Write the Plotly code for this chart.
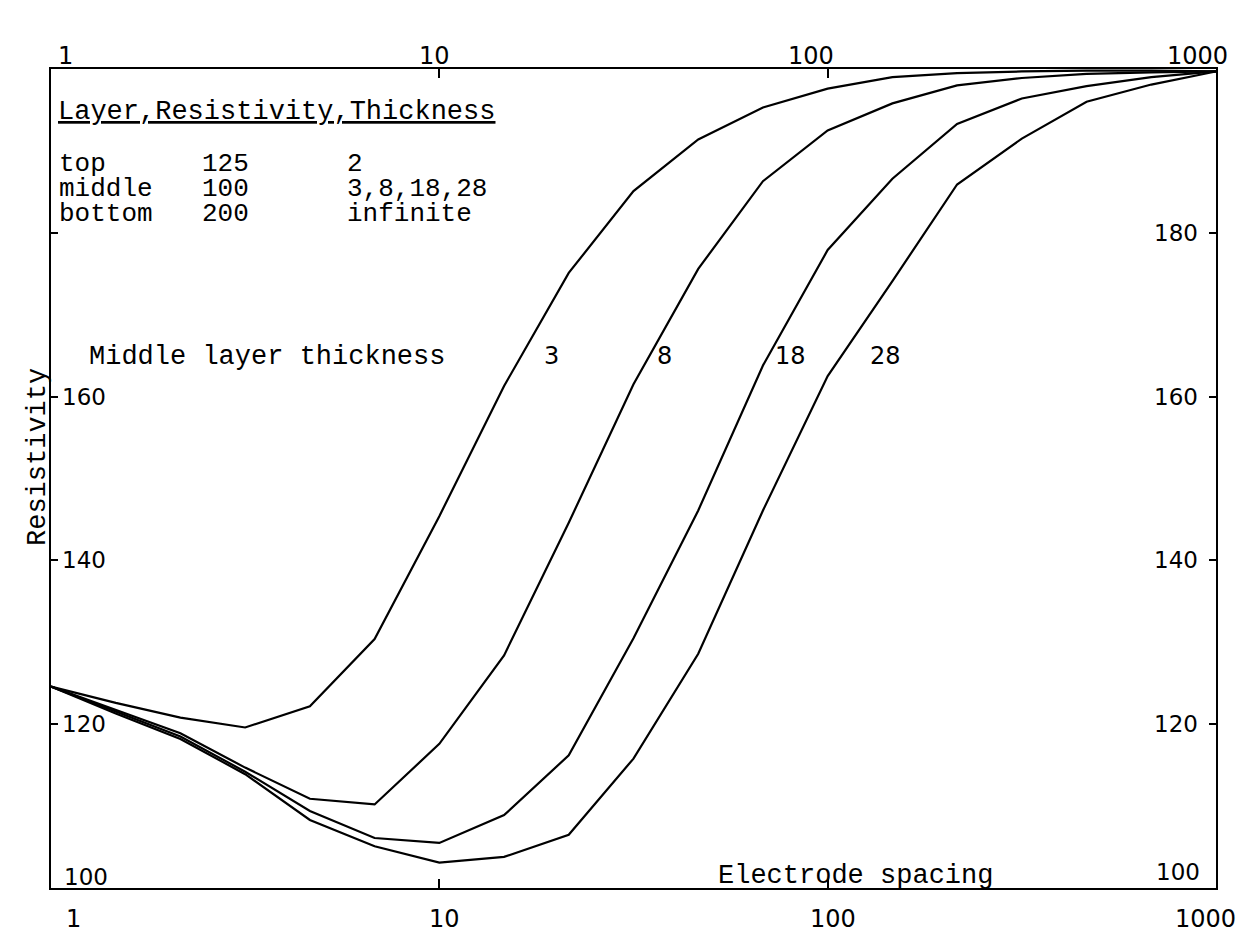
import plotly.graph_objects as go
import math

# ---- data ----
spacing = [1, 1.468, 2.154, 3.162, 4.642, 6.813, 10, 14.68, 21.54, 31.62,
           46.42, 68.13, 100, 146.8, 215.4, 316.2, 464.2, 681.3, 1000]
thickness_labels = ["3", "8", "18", "28"]
rho_t3 = [124.6, 122.6, 120.8, 119.6, 122.2, 130.4, 145.4, 161.3, 175.1, 185.1,
          191.4, 195.3, 197.6, 199.0, 199.5, 199.7, 199.8, 199.8, 199.7]
rho_t8 = [124.6, 121.7, 118.9, 114.7, 110.9, 110.2, 117.6, 128.4, 144.6, 161.5,
          175.6, 186.3, 192.5, 195.8, 198.0, 198.9, 199.4, 199.6, 199.7]
rho_t18 = [124.6, 121.5, 118.5, 114.2, 109.4, 106.1, 105.5, 108.9, 116.2, 130.5,
           146.1, 163.8, 177.9, 186.6, 193.3, 196.4, 197.9, 199.0, 199.7]
rho_t28 = [124.6, 121.3, 118.2, 113.9, 108.3, 105.1, 103.1, 103.8, 106.5, 115.8,
           128.6, 146.1, 162.5, 174.1, 185.9, 191.5, 196.0, 198.1, 199.7]
series = [rho_t3, rho_t8, rho_t18, rho_t28]

x_ticks = [1, 10, 100, 1000]
x_tick_text = ["1", "10", "100", "1000"]
y_ticks_left = [120, 140, 160]
y_ticks_right = [120, 140, 160, 180]

table_rows = [("top", "125", "2"), ("middle", "100", "3,8,18,28"), ("bottom", "200", "infinite")]

MONO = "Liberation Mono"
SANS = "DejaVu Sans"

fig = go.Figure()
for name, ys in zip(thickness_labels, series):
    fig.add_trace(go.Scatter(x=spacing, y=ys, mode="lines", name=name,
                             line=dict(color="black", width=2.2), showlegend=False))

W, H = 1252, 952
L, R, T, B = 51, 36, 69, 64
pw = W - L - R
ph = H - T - B


def px_to_paper_x(px):
    return (px - L) / pw


def py_to_paper_y(py):
    return 1 - (py - T) / ph


ann = []
top_shift = [5, -5, -17, -19]
bot_shift = [13, 5, 5, -11]
for v, t, s1, s2 in zip(x_ticks, x_tick_text, top_shift, bot_shift):
    ann.append(dict(x=math.log10(v), xref="x", y=1, yref="paper", text=t,
                    xanchor="left" if v == 1 else "center", yanchor="bottom",
                    xshift=s1, yshift=-3, showarrow=False,
                    font=dict(family=SANS, size=24, color="black")))
    ann.append(dict(x=math.log10(v), xref="x", y=0, yref="paper", text=t,
                    xanchor="left" if v == 1 else "center", yanchor="top",
                    xshift=s2, yshift=-15, showarrow=False,
                    font=dict(family=SANS, size=24, color="black")))
for v in y_ticks_left:
    ann.append(dict(x=px_to_paper_x(60), xref="paper", y=v, yref="y", text=str(v),
                    xanchor="left", yanchor="middle", showarrow=False,
                    font=dict(family=SANS, size=23, color="black")))
ann.append(dict(x=px_to_paper_x(62), xref="paper", y=101.4, yref="y", text="100",
                xanchor="left", yanchor="middle", showarrow=False,
                font=dict(family=SANS, size=23, color="black")))
for v in y_ticks_right:
    ann.append(dict(x=px_to_paper_x(1200), xref="paper", y=v, yref="y", text=str(v),
                    xanchor="right", yanchor="middle", showarrow=False,
                    font=dict(family=SANS, size=23, color="black")))
ann.append(dict(x=px_to_paper_x(1202), xref="paper", y=101.9, yref="y", text="100",
                xanchor="right", yanchor="middle", showarrow=False,
                font=dict(family=SANS, size=23, color="black")))

ann.append(dict(x=px_to_paper_x(56), xref="paper", y=py_to_paper_y(112), yref="paper",
                text="<u>Layer,Resistivity,Thickness</u>", xanchor="left", yanchor="middle",
                showarrow=False, font=dict(family=MONO, size=27, color="black")))
row_y = [164, 189, 214]
col_x = [57, 200, 345]
for (a, b, c), ry in zip(table_rows, row_y):
    for txt, cx in zip((a, b, c), col_x):
        ann.append(dict(x=px_to_paper_x(cx), xref="paper", y=py_to_paper_y(ry), yref="paper",
                        text=txt, xanchor="left", yanchor="middle", showarrow=False,
                        font=dict(family=MONO, size=26, color="black")))

ann.append(dict(x=px_to_paper_x(87), xref="paper", y=py_to_paper_y(357), yref="paper",
                text="Middle layer thickness", xanchor="left", yanchor="middle",
                showarrow=False, font=dict(family=MONO, size=27, color="black")))
curve_label_px = [551, 665, 790, 885]
for t, cx in zip(thickness_labels, curve_label_px):
    ann.append(dict(x=px_to_paper_x(cx), xref="paper", y=py_to_paper_y(356), yref="paper",
                    text=t, xanchor="center", yanchor="middle", showarrow=False,
                    font=dict(family=SANS, size=24, color="black")))

ann.append(dict(x=px_to_paper_x(716), xref="paper", y=py_to_paper_y(876), yref="paper",
                text="Electrode spacing", xanchor="left", yanchor="middle",
                showarrow=False, font=dict(family=MONO, size=27, color="black")))
ann.append(dict(x=px_to_paper_x(38), xref="paper", y=py_to_paper_y(457), yref="paper",
                text="Resistivity", textangle=-90, xanchor="center", yanchor="middle",
                showarrow=False, font=dict(family=MONO, size=27, color="black")))

fig.update_layout(
    width=W, height=H,
    margin=dict(l=L, r=R, t=T, b=B),
    paper_bgcolor="white", plot_bgcolor="white",
    annotations=ann,
    xaxis=dict(type="log", range=[0, 3], showgrid=False, zeroline=False,
               showline=True, linecolor="black", linewidth=2, mirror="ticks",
               ticks="inside", ticklen=9, tickwidth=2, tickcolor="black",
               tickvals=[10, 100], showticklabels=False),
    yaxis=dict(range=[100, 200], showgrid=False, zeroline=False,
               showline=True, linecolor="black", linewidth=2, mirror="ticks",
               ticks="inside", ticklen=7, tickwidth=2, tickcolor="black",
               tickvals=[120, 140, 160, 180], showticklabels=False),
)

fig.write_html("out.html")
